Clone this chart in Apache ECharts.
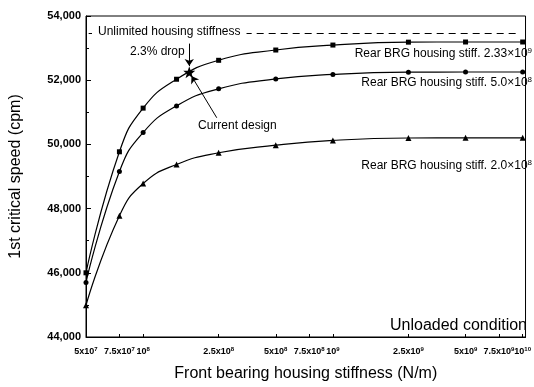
<!DOCTYPE html>
<html><head><meta charset="utf-8">
<script src="https://cdn.jsdelivr.net/npm/echarts@6/dist/echarts.min.js"></script>
<style>html,body{margin:0;padding:0;background:#fff}#c{width:534px;height:387px}</style>
</head><body><div id="c"></div>
<script>
// ---- data (front bearing housing stiffness N/m -> 1st critical speed cpm) ----
const stiffness = [5e7, 7.5e7, 1e8, 1.5e8, 2.5e8, 5e8, 1e9, 2.5e9, 5e9, 1e10];
const speedRear233e9 = [46000, 49770, 51130, 52030, 52620, 52940, 53095, 53185, 53190, 53190];
const speedRear50e8  = [45700, 49155, 50370, 51200, 51730, 52040, 52180, 52250, 52255, 52255];
const speedRear20e8  = [44990, 47780, 48780, 49375, 49740, 49975, 50125, 50200, 50205, 50205];
const currentDesignStiffness = 1.75e8;
const currentDesignSpeed = 52250;
const unlimitedSpeed = 53450;
const xTickValues = [5e7, 7.5e7, 1e8, 2.5e8, 5e8, 7.5e8, 1e9, 2.5e9, 5e9, 7.5e9, 1e10];
const xTickLabels = ['5x10^7','7.5x10^7','10^8','2.5x10^8','5x10^8','7.5x10^8','10^9','2.5x10^9','5x10^9','7.5x10^9','10^10'];
const seriesLabels = ['Rear BRG housing stiff. 2.33×10^9','Rear BRG housing stiff. 5.0×10^8','Rear BRG housing stiff. 2.0×10^8'];

const FONT = '"Liberation Sans", Arial, sans-serif';
const L = Math.log10;
const toRich = (s, b, p) => { const [m, e] = s.split('^'); return '{' + b + '|' + m + '}{' + p + '|' + e + '}'; };
const pts = vals => stiffness.map((s, i) => [L(s), vals[i]]);

const chart = echarts.init(document.getElementById('c'), null, {renderer: 'canvas'});
const lineStyle = {color: '#000', width: 1.2};
function curve(vals, symbol, size) {
  return {
    type: 'line', data: pts(vals), smooth: 0.5,
    symbol: symbol, symbolSize: size, showSymbol: true,
    itemStyle: {color: '#000'}, lineStyle: lineStyle, z: 3
  };
}
const option = {
  animation: false,
  backgroundColor: '#fff',
  grid: {left: 82, top: 16, width: 448, height: 328, show: true, borderColor: '#000', borderWidth: 1, backgroundColor: 'transparent'},
  xAxis: {
    type: 'value', min: L(5e7), max: 10.015,
    name: 'Front bearing housing stiffness (N/m)', nameLocation: 'middle', nameGap: 29,
    nameTextStyle: {fontFamily: FONT, fontSize: 16, color: '#000'},
    axisLine: {lineStyle: {color: '#000', width: 1}},
    splitLine: {show: false},
    axisTick: {inside: true, length: 3, customValues: xTickValues.map(L), lineStyle: {color: '#000'}},
    axisLabel: {
      customValues: xTickValues.map(L), margin: 9, color: '#000', showMaxLabel: true,
      formatter: v => { const i = xTickValues.findIndex(t => Math.abs(L(t) - v) < 1e-6); return i < 0 ? '' : toRich(xTickLabels[i], 'b', 's'); },
      rich: {
        b: {fontFamily: FONT, fontSize: 9, fontWeight: 'bold', color: '#000'},
        s: {fontFamily: FONT, fontSize: 6, fontWeight: 'bold', color: '#000', verticalAlign: 'bottom', padding: [0, 0, 5, 0]}
      }
    }
  },
  yAxis: {
    type: 'value', min: 44000, max: 54000, interval: 2000,
    name: '1st critical speed (cpm)', nameLocation: 'middle', nameGap: 62,
    nameTextStyle: {fontFamily: FONT, fontSize: 16, color: '#000'},
    axisLine: {show: true, lineStyle: {color: '#000', width: 1}},
    splitLine: {show: false},
    axisTick: {inside: true, length: 5, lineStyle: {color: '#000'}},
    minorTick: {show: true, splitNumber: 2, length: 3, lineStyle: {color: '#000'}},
    axisLabel: {fontFamily: FONT, fontSize: 11, fontWeight: 'bold', color: '#000', margin: 5,
      formatter: v => v.toLocaleString('en-US')}
  },
  series: [
    curve(speedRear233e9, 'rect', 5),
    curve(speedRear50e8, 'circle', 5),
    curve(speedRear20e8, 'triangle', 6),
    {
      type: 'scatter', data: [[L(currentDesignStiffness), currentDesignSpeed]],
      symbol: 'path://M0,-10L2.35,-3.24L9.51,-3.09L3.8,1.24L5.88,8.09L0,4L-5.88,8.09L-3.8,1.24L-9.51,-3.09L-2.35,-3.24Z',
      symbolSize: 12, itemStyle: {color: '#000', opacity: 1}, z: 6,
      markLine: {
        silent: true, symbol: ['none', 'arrow'], symbolSize: 7, z: 5,
        label: {show: false}, lineStyle: {color: '#000', width: 1, type: 'solid', opacity: 1},
        data: [
          [{coord: [L(currentDesignStiffness), 53140]}, {coord: [L(currentDesignStiffness), 52440]}],
          [{coord: [8.388, 50830]}, {coord: [8.255, 52130]}]
        ]
      }
    },
    {
      type: 'line', data: [],
      markLine: {
        silent: true, symbol: ['none', 'none'], label: {show: false},
        lineStyle: {color: '#000', width: 1, type: [7, 5], opacity: 1},
        data: [[{coord: [7.713, unlimitedSpeed]}, {coord: [9.97, unlimitedSpeed]}]]
      }
    }
  ],
  graphic: [
    {type: 'text', left: 92, top: 25, z: 10, style: {text: 'Unlimited housing stiffness', font: '12px ' + FONT, fill: '#000', backgroundColor: '#fff', padding: [1, 6]}},
    {type: 'text', left: 130, top: 46, z: 10, style: {text: '2.3% drop', font: '12px ' + FONT, fill: '#000'}},
    {type: 'text', left: 198, top: 120, z: 10, style: {text: 'Current design', font: '12px ' + FONT, fill: '#000'}},
    {type: 'text', right: 7, top: 318, z: 10, style: {text: 'Unloaded condition', font: '16px ' + FONT, fill: '#000'}},
  ]
};
const labY = [55, 84, 167];
seriesLabels.forEach((s, i) => {
  option.graphic.push({
    type: 'text', right: 2, top: labY[i] - 8, z: 10,
    style: {
      text: toRich(s, 'n', 's'),
      rich: {
        n: {fontFamily: FONT, fontSize: 12, color: '#000'},
        s: {fontFamily: FONT, fontSize: 8, color: '#000', verticalAlign: 'bottom', padding: [0, 0, 6, 0]}
      }
    }
  });
});
chart.setOption(option);
</script>
</body></html>
